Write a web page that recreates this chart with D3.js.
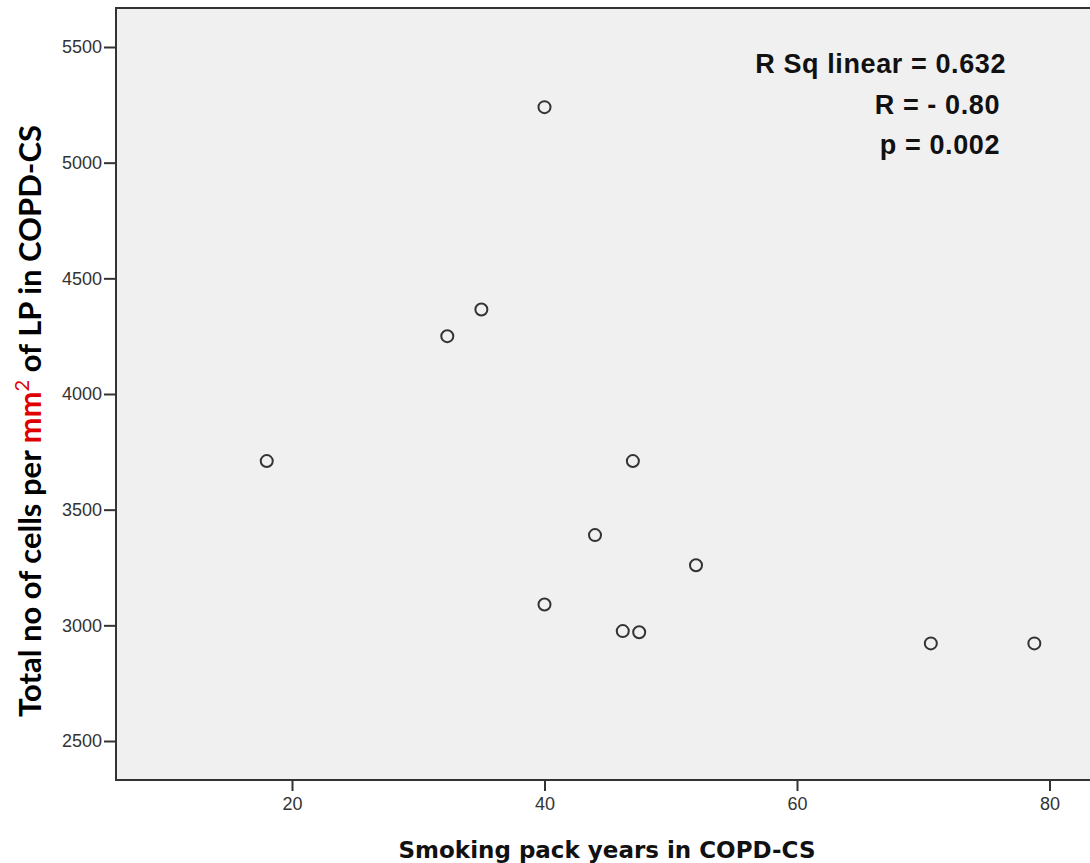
<!DOCTYPE html>
<html>
<head>
<meta charset="utf-8">
<script src="https://cdn.jsdelivr.net/npm/d3@7"></script>
<style>
  body { margin: 0; background: #fff; }
  svg { display: block; }
</style>
</head>
<body>
<svg id="chart" width="1090" height="863"></svg>
<script>
// pack years vs total cells per mm2
const packYears = [18, 32.3, 35, 40, 47, 44, 52, 40, 46.2, 47.5, 70.6, 78.8];
const cellCounts = [3710, 4250, 4365, 5240, 3710, 3390, 3260, 3090, 2975, 2970, 2922, 2922];
const xTicks = [20, 40, 60, 80];
const yTicks = [2500, 3000, 3500, 4000, 4500, 5000, 5500];
const statsLines = ["R Sq linear = 0.632", "R = - 0.80", "p = 0.002"];

const svg = d3.select("#chart");
const plotLeft = 116, plotTop = 8, plotBottom = 780, plotRight = 1100;

const x = d3.scaleLinear().domain([20, 80]).range([292, 1049.5]);
const y = d3.scaleLinear().domain([2500, 5500]).range([741, 47]);

// plot background
svg.append("rect")
  .attr("x", plotLeft).attr("y", plotTop)
  .attr("width", plotRight - plotLeft).attr("height", plotBottom - plotTop)
  .attr("fill", "#f0f0f0")
  .attr("stroke", "#333").attr("stroke-width", 2);

// axes
const xAxis = svg.append("g")
  .attr("transform", `translate(0,${plotBottom})`)
  .call(d3.axisBottom(x).tickValues(xTicks).tickFormat(d3.format("d")).tickSize(11).tickPadding(6));
const yAxis = svg.append("g")
  .attr("transform", `translate(${plotLeft},0)`)
  .call(d3.axisLeft(y).tickValues(yTicks).tickFormat(d3.format("d")).tickSize(12).tickPadding(2));

[xAxis, yAxis].forEach(function(g) {
  g.attr("font-size", 18).attr("font-family", "Liberation Sans, Arial, sans-serif");
  g.select(".domain").remove();
  g.selectAll(".tick line").attr("stroke", "#333").attr("stroke-width", 2);
  g.selectAll(".tick text").attr("fill", "#333");
});

// points
svg.append("g")
  .selectAll("circle")
  .data(packYears)
  .join("circle")
  .attr("cx", function(d) { return x(d); })
  .attr("cy", function(d, i) { return y(cellCounts[i]); })
  .attr("r", 6)
  .attr("fill", "none")
  .attr("stroke", "#333")
  .attr("stroke-width", 2);

// stats text, right aligned
const statsX = [1006, 1000, 1000];
const statsY = [73, 114, 154];
svg.append("g")
  .selectAll("text")
  .data(statsLines)
  .join("text")
  .attr("x", function(d, i) { return statsX[i]; })
  .attr("y", function(d, i) { return statsY[i]; })
  .attr("text-anchor", "end")
  .style("font-family", "Liberation Sans, Arial, sans-serif")
  .style("font-weight", "bold")
  .style("font-size", "27px")
  .style("letter-spacing", "0.6px")
  .attr("fill", "#111")
  .text(function(d) { return d; });

// x axis title
svg.append("text")
  .attr("x", 607).attr("y", 858)
  .attr("text-anchor", "middle")
  .style("font-family", "DejaVu Sans, Verdana, sans-serif")
  .style("font-weight", "bold")
  .style("font-size", "23px")
  .attr("fill", "#111")
  .text("Smoking pack years in COPD-CS");

// y axis title with red mm2
const yTitle = svg.append("text")
  .attr("transform", "translate(41,421) rotate(-90)")
  .attr("text-anchor", "middle")
  .style("font-family", "Lato, 'Open Sans', sans-serif")
  .style("font-weight", "bold")
  .style("font-size", "31px")
  .attr("fill", "#000");
yTitle.append("tspan").text("Total no of cells per ");
yTitle.append("tspan").attr("fill", "#e00000").text("mm");
yTitle.append("tspan").attr("fill", "#e00000").attr("dy", -12).style("font-size", "20px").style("font-weight", "normal").text("2");
yTitle.append("tspan").attr("dy", 12).text(" of LP in COPD-CS");
</script>
</body>
</html>
